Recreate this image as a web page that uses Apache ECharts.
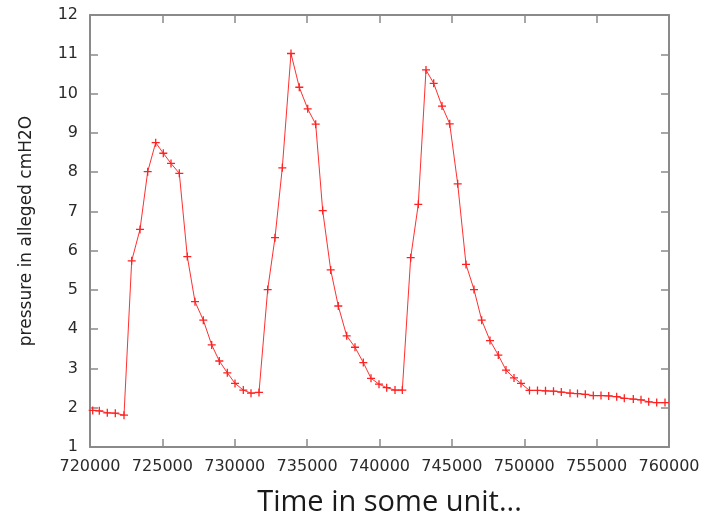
<!DOCTYPE html>
<html>
<head>
<meta charset="utf-8">
<script src="https://cdn.jsdelivr.net/npm/echarts@6/dist/echarts.min.js"></script>
<style>html,body{margin:0;padding:0;background:#fff;}#c{width:709px;height:521px;}</style>
</head>
<body>
<div id="c"></div>
<script>
const timeValues = [720187,720642,721195,721748,722349,722881,723454,723986,724539,725064,725596,726170,726722,727254,727828,728408,728933,729486,730018,730591,731123,731675,732276,732781,733285,733886,734459,735040,735592,736076,736628,737153,737734,738307,738881,739413,739965,740497,741071,741575,742155,742680,743212,743744,744318,744850,745402,745976,746528,747060,747634,748207,748739,749292,749775,750363,750915,751468,752021,752560,753161,753679,754218,754770,755302,755834,756387,756912,757534,758066,758598,759150,759724];
const pressureValues = [1.93,1.92,1.87,1.86,1.81,5.74,6.54,8.01,8.75,8.48,8.22,7.97,5.85,4.70,4.23,3.60,3.19,2.89,2.62,2.45,2.37,2.39,5.01,6.33,8.11,11.02,10.16,9.61,9.22,7.02,5.51,4.59,3.83,3.54,3.15,2.75,2.60,2.51,2.45,2.45,5.82,7.18,10.60,10.26,9.68,9.23,7.70,5.65,5.01,4.23,3.71,3.34,2.96,2.76,2.62,2.44,2.44,2.43,2.42,2.40,2.37,2.36,2.34,2.31,2.31,2.30,2.28,2.24,2.22,2.20,2.15,2.13,2.13];
const xTitle = 'Time in some unit...';
const yTitle = 'pressure in alleged cmH2O';

const points = timeValues.map((t, i) => [t, pressureValues[i]]);
const frame = { show: true, lineStyle: { color: '#8a8a8a', width: 2 } };
const tick = { show: true, inside: true, length: 8, lineStyle: { color: '#8a8a8a', width: 1.5 } };
const labelFont = { color: '#2a2a2a', fontFamily: 'DejaVu Sans', fontSize: 16 };

const chart = echarts.init(document.getElementById('c'));
chart.setOption({
  animation: false,
  backgroundColor: '#fff',
  grid: { left: 90, right: 40, top: 15, bottom: 74, containLabel: false, outerBoundsMode: 'none' },
  xAxis: [
    { type: 'value', min: 720000, max: 760000, interval: 5000, position: 'bottom',
      axisLine: frame, axisTick: tick, splitLine: { show: false },
      axisLabel: Object.assign({ margin: 12, formatter: v => String(v) }, labelFont),
      name: xTitle, nameLocation: 'middle', nameGap: 41,
      nameTextStyle: { fontFamily: 'Open Sans', fontSize: 29, color: '#1a1a1a', padding: [0, 0, 0, 20] } },
    { type: 'value', min: 720000, max: 760000, interval: 5000, position: 'top',
      axisLine: frame, axisTick: tick, splitLine: { show: false }, axisLabel: { show: false } }
  ],
  yAxis: [
    { type: 'value', min: 1, max: 12, interval: 1, position: 'left',
      axisLine: frame, axisTick: tick, splitLine: { show: false },
      axisLabel: Object.assign({ margin: 12 }, labelFont),
      name: yTitle, nameLocation: 'middle', nameGap: 55, nameRotate: 90,
      nameTextStyle: { fontFamily: 'DejaVu Sans', fontSize: 17, color: '#222' } },
    { type: 'value', min: 1, max: 12, interval: 1, position: 'right',
      axisLine: frame, axisTick: tick, splitLine: { show: false }, axisLabel: { show: false } }
  ],
  series: [{
    type: 'line',
    data: points,
    xAxisIndex: 0, yAxisIndex: 0,
    symbol: 'path://M4.2,0H5.8V4.2H10V5.8H5.8V10H4.2V5.8H0V4.2H4.2Z',
    symbolSize: 8,
    showAllSymbol: true,
    lineStyle: { color: '#ff3030', width: 1 },
    itemStyle: { color: '#ff2020' }
  }]
});
</script>
</body>
</html>
